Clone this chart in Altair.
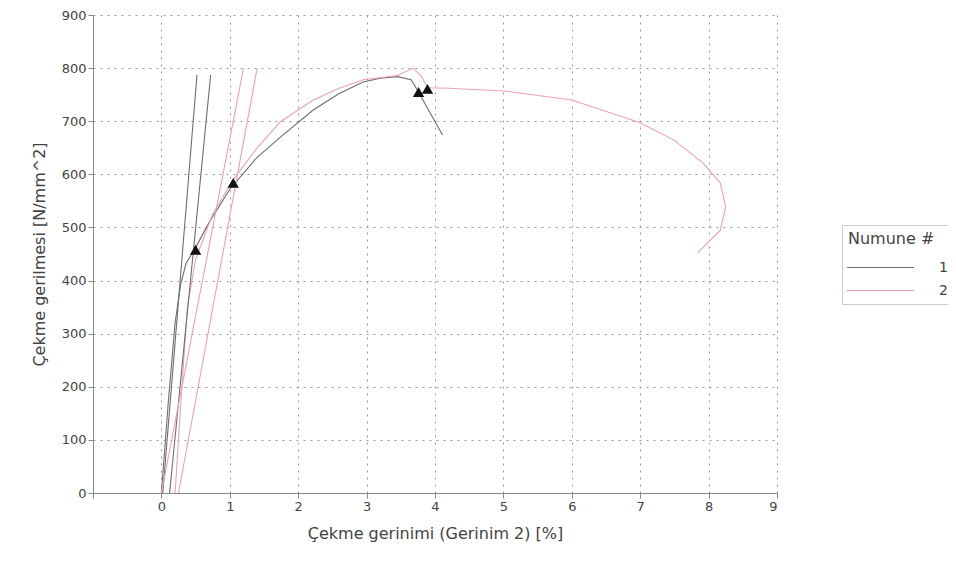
import altair as alt
import pandas as pd

# Specimen 1 (gray) main curve
s1_x = [0.0, 0.1, 0.2, 0.28, 0.36, 0.5, 0.7, 1.0, 1.4, 1.74, 2.22, 2.6, 2.95, 3.2, 3.45, 3.65, 3.76, 3.9, 4.11]
s1_y = [0, 170, 320, 392, 432, 462, 510, 572, 632, 670, 721, 752, 774, 781, 784, 778, 755, 722, 674]
# Specimen 2 (pink) main curve
s2_x = [0.2, 0.3, 0.38, 0.5, 0.75, 1.05, 1.4, 1.74, 2.22, 2.6, 2.95, 3.45, 3.68, 3.8, 3.89, 4.2, 5.0, 6.0, 7.0, 7.5, 7.92, 8.17, 8.25, 8.17, 7.84]
s2_y = [0, 200, 350, 440, 525, 590, 650, 699, 740, 762, 778, 786, 800, 785, 763, 762, 757, 740, 697, 664, 621, 584, 539, 495, 452]
# Modulus (slope) lines
m1a_x = [0.02, 0.52]; m1a_y = [0, 787]
m1b_x = [0.12, 0.72]; m1b_y = [0, 787]
m2a_x = [0.0, 1.2];   m2a_y = [0, 800]
m2b_x = [0.25, 1.4];  m2b_y = [0, 800]
# Markers
tri_x = [0.5, 1.05, 3.76, 3.89]
tri_y = [458, 584, 755, 761]

rows = []
for gid, (xs, ys, s) in enumerate([(s1_x, s1_y, "1"), (s2_x, s2_y, "2"),
                                    (m1a_x, m1a_y, "1"), (m1b_x, m1b_y, "1"),
                                    (m2a_x, m2a_y, "2"), (m2b_x, m2b_y, "2")]):
    for i, (x, y) in enumerate(zip(xs, ys)):
        rows.append({"x": x, "y": y, "Numune": s, "g": gid, "o": i})
df = pd.DataFrame(rows)
tri = pd.DataFrame({"x": tri_x, "y": tri_y})

xscale = alt.Scale(domain=[-1, 9], nice=False, zero=False)
yscale = alt.Scale(domain=[0, 900], nice=False)

xaxis = alt.Axis(
    title="Çekme gerinimi (Gerinim 2) [%]",
    values=[-1, -0.5, 0, 0.5, 1, 1.5, 2, 2.5, 3, 3.5, 4, 4.5, 5, 5.5, 6, 6.5, 7, 7.5, 8, 8.5, 9],
    labelExpr="(datum.value % 1 == 0 && datum.value >= 0) ? format(datum.value, 'd') : ''",
    gridOpacity={"condition": {"test": "datum.value % 1 == 0 && datum.value > -1", "value": 1}, "value": 0},
    tickSize={"condition": {"test": "datum.value % 1 == 0", "value": 5}, "value": 3},
    titlePadding=12,
)
yaxis = alt.Axis(
    title="Çekme gerilmesi [N/mm^2]",
    values=list(range(0, 901, 50)),
    labelExpr="datum.value % 100 == 0 ? datum.label : ''",
    gridOpacity={"condition": {"test": "datum.value % 100 == 0 && datum.value > 0", "value": 1}, "value": 0},
    tickSize={"condition": {"test": "datum.value % 100 == 0", "value": 5}, "value": 3},
    titlePadding=14,
)

lines = alt.Chart(df).mark_line(strokeWidth=1.1).encode(
    x=alt.X("x:Q", scale=xscale, axis=xaxis),
    y=alt.Y("y:Q", scale=yscale, axis=yaxis),
    color=alt.Color("Numune:N",
                    scale=alt.Scale(domain=["1", "2"], range=["#6e6e6e", "#eaa3ae"]),
                    legend=alt.Legend(title="Numune #", orient="none", legendX=749, legendY=210,
                                      symbolType="M-5,0H5", symbolSize=180, symbolStrokeWidth=1,
                                      symbolOffset=25, labelOffset=51,
                                      strokeColor="#cccccc", padding=6,
                                      titleFontSize=16, labelFontSize=14, titleFontWeight="normal",
                                      titleColor="#444", labelColor="#444", rowPadding=8,
                                      titlePadding=13)),
    detail="g:N",
    order="o:Q",
)

pts = alt.Chart(tri).mark_point(shape="triangle-up", filled=True, color="#111", size=130, opacity=1).encode(
    x=alt.X("x:Q", scale=xscale),
    y=alt.Y("y:Q", scale=yscale),
)

chart = alt.layer(lines, pts).properties(
    width=684, height=478,
    autosize=alt.AutoSizeParams(type="none"),
    padding={"left": 85, "top": 7, "right": 171, "bottom": 60},
).configure_view(stroke=None).configure_axis(
    labelFont="DejaVu Sans", titleFont="DejaVu Sans", labelFontSize=13, titleFontSize=16,
    titleFontWeight="normal", labelColor="#444", titleColor="#444",
    domainColor="#888", tickColor="#888", gridColor="#9a9a9a", gridDash=[2, 5],
).configure_legend(labelFont="DejaVu Sans", titleFont="DejaVu Sans")

chart.save("out.html", embed_options={"renderer": "svg", "actions": False})
